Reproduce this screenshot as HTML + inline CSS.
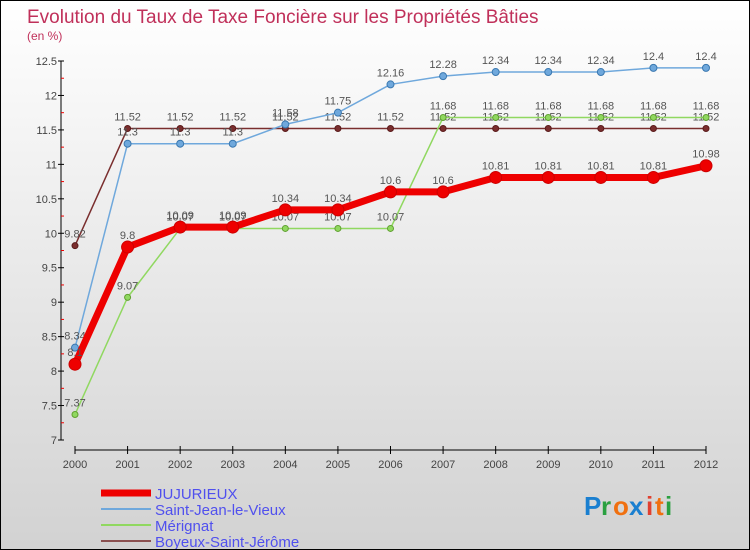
<!DOCTYPE html>
<html><head><meta charset="utf-8"><style>
body{margin:0}
#c{width:748px;height:548px;border:1px solid #000;background:linear-gradient(#fff,#d2d2d2);position:relative;font-family:"Liberation Sans",sans-serif}
</style></head><body>
<div id="c">
<svg id="s" width="748" height="548" style="position:absolute;left:0;top:0">
<text x="26" y="22" font-size="19" fill="#c0305a">Evolution du Taux de Taxe Foncière sur les Propriétés Bâties</text>
<text x="26" y="39" font-size="12" fill="#c0305a">(en %)</text>
<g id="axes"></g><g id="series"></g><g id="legend"></g>
<g font-size="26" font-weight="bold">
<text x="583" y="514" fill="#1a7fd0">P</text><text x="600" y="514" fill="#2aa040">r</text><text x="612" y="514" fill="#f07010">o</text><text x="628" y="514" fill="#1a7fd0">x</text><text x="645" y="514" fill="#e04030">i</text><text x="654" y="514" fill="#f07010">t</text><text x="664" y="514" fill="#2aa040">i</text>
</g>
</svg>
</div>
<script>
const years=[2000,2001,2002,2003,2004,2005,2006,2007,2008,2009,2010,2011,2012];
const jujurieux=[8.1,9.8,10.09,10.09,10.34,10.34,10.6,10.6,10.81,10.81,10.81,10.81,10.98];
const saintJean=[8.34,11.3,11.3,11.3,11.58,11.75,12.16,12.28,12.34,12.34,12.34,12.4,12.4];
const merignat=[7.37,9.07,10.07,10.07,10.07,10.07,10.07,11.68,11.68,11.68,11.68,11.68,11.68];
const boyeux=[9.82,11.52,11.52,11.52,11.52,11.52,11.52,11.52,11.52,11.52,11.52,11.52,11.52];
const yTicks=[7,7.5,8,8.5,9,9.5,10,10.5,11,11.5,12,12.5];
const NS="http://www.w3.org/2000/svg";
const X=i=>74+i*(705-74)/(years.length-1);
const Y=v=>439-(v-7)*(379/5.5);
function mk(p,t,a){const e=document.createElementNS(NS,t);for(const k in a)e.setAttribute(k,a[k]);p.appendChild(e);return e;}
const ax=document.getElementById('axes');
let l=mk(ax,'line',{x1:60,y1:Y(12.5),x2:60,y2:Y(7),stroke:'#000'});


l=mk(ax,'line',{x1:74,y1:449,x2:705,y2:449,stroke:'#000'});


yTicks.forEach(v=>{
 mk(ax,'line',{x1:57,y1:Y(v),x2:63,y2:Y(v),stroke:'#000'});
 const t=mk(ax,'text',{x:56,y:Y(v)+4,'font-size':11,fill:'#444','text-anchor':'end'});t.textContent=v;
 
 
 if(v<12.5)mk(ax,'line',{x1:60,y1:Y(v+0.25),x2:63,y2:Y(v+0.25),stroke:'#e00'});
});
years.forEach((y,i)=>{
 mk(ax,'line',{x1:X(i),y1:445,x2:X(i),y2:453,stroke:'#000'});
 const t=mk(ax,'text',{x:X(i),y:467,'font-size':11,fill:'#444','text-anchor':'middle'});t.textContent=y;
 
 
});
const sg=document.getElementById('series');
function series(data,color,w,r,name,stroke){
 const g=mk(sg,'g',{});
 
 
 mk(g,'polyline',{points:data.map((v,i)=>X(i)+','+Y(v)).join(' '),fill:'none',stroke:color,'stroke-width':w});
 data.forEach((v,i)=>{
  const c=mk(g,'circle',{cx:X(i),cy:Y(v),r:r,fill:color,stroke:stroke,'stroke-width':1});
  
  
  const t=mk(g,'text',{x:X(i),y:Y(v)-8,'font-size':11,fill:'#555','text-anchor':'middle'});t.textContent=v;
  
  
 });
}
series(boyeux,'#7a2e2e',1.5,3,'series-boyeux','#5a1a1a');
series(merignat,'#90d860',1.5,3,'series-merignat','#60a030');
series(saintJean,'#6fa8dc',1.5,3.5,'series-saint-jean','#3a78b0');
series(jujurieux,'#ee0000',7,6,'series-jujurieux','#cc0000');
const lg=document.getElementById('legend');
[['JUJURIEUX','#ee0000',7],['Saint-Jean-le-Vieux','#6fa8dc',2],['Mérignat','#90d860',2],['Boyeux-Saint-Jérôme','#8a5050',2]].forEach((d,i)=>{
 const y=492+i*16;
 const g=mk(lg,'g',{});
 
 
 mk(g,'line',{x1:100,y1:y,x2:150,y2:y,stroke:d[1],'stroke-width':d[2]});
 const t=mk(g,'text',{x:154,y:y+6,'font-size':15,fill:'#5050ee'});t.textContent=d[0];
});
</script>
</body></html>
